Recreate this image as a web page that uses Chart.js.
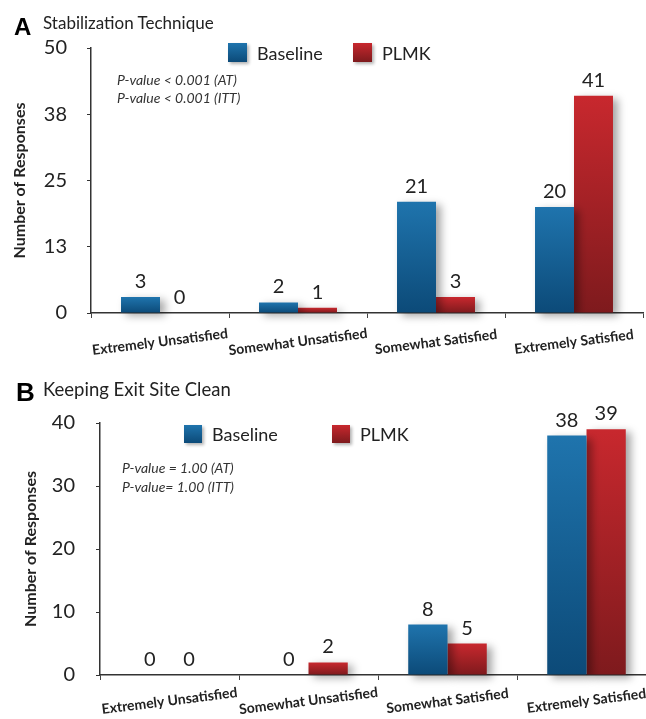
<!DOCTYPE html>
<html>
<head>
<meta charset="utf-8">
<script src="https://cdn.jsdelivr.net/npm/chart.js@4/dist/chart.umd.min.js"></script>
<style>
  html, body { margin: 0; padding: 0; width: 646px; height: 719px; overflow: hidden; background: #fff; }
  body { position: relative; font-family: Lato, sans-serif; color: #222; }
  canvas { position: absolute; left: 0; }
  #chartA { top: 0; }
  #chartB { top: 360px; }
  .letter { position: absolute; font-family: "Liberation Sans", Arial, sans-serif; font-weight: bold; color: #000; line-height: 1; }
  .title { position: absolute; line-height: 1; color: #222; }
  .pval { position: absolute; font-style: italic; font-size: 14px; color: #333; }
  .key { position: absolute; width: 19px; height: 19px; box-shadow: 2px 2px 3px rgba(0,0,0,0.3); }
  .key.blue { background: linear-gradient(#1f74ad, #0c4a78); }
  .key.red { background: linear-gradient(#c8282e, #7e1a1d); }
  .keytext { position: absolute; font-size: 18px; line-height: 20px; color: #222; }
</style>
</head>
<body>
<canvas id="chartA" width="646" height="360"></canvas>
<canvas id="chartB" width="660" height="359"></canvas>

<div class="letter" style="left:14px; top:15px; font-size:24px;">A</div>
<div class="title" style="left:43px; top:14px; font-size:17px;">Stabilization Technique</div>
<div class="key blue" style="left:228px; top:43px;"></div>
<div class="keytext" style="left:257px; top:43px;">Baseline</div>
<div class="key red" style="left:353px; top:43px;"></div>
<div class="keytext" style="left:382px; top:43px;">PLMK</div>
<div class="pval" style="left:117px; top:71px; line-height:18px;">P-value &lt; 0.001 (AT)<br>P-value &lt; 0.001 (ITT)</div>

<div class="letter" style="left:16px; top:379px; font-size:26px;">B</div>
<div class="title" style="left:43px; top:380px; font-size:18.5px;">Keeping Exit Site Clean</div>
<div class="key blue" style="left:184px; top:425px; width:18px; height:18px;"></div>
<div class="keytext" style="left:212px; top:424px;">Baseline</div>
<div class="key red" style="left:332px; top:425px; width:18px; height:18px;"></div>
<div class="keytext" style="left:360px; top:424px;">PLMK</div>
<div class="pval" style="left:122px; top:458px; line-height:19px;">P-value = 1.00 (AT)<br>P-value= 1.00 (ITT)</div>

<script>
// categories shared by both panels
const categories = ['Extremely Unsatisfied', 'Somewhat Unsatisfied', 'Somewhat Satisfied', 'Extremely Satisfied'];

// Panel A - Stabilization Technique
const baselineA = [3, 2, 21, 20];
const plmkA = [0, 1, 3, 41];
const yTicksA = [0, 12.5, 25, 37.5, 50];
const yTickLabelsA = ['0', '13', '25', '38', '50'];

// Panel B - Keeping Exit Site Clean
const baselineB = [0, 0, 8, 38];
const plmkB = [0, 2, 5, 39];
const yTicksB = [0, 10, 20, 30, 40];
const yTickLabelsB = ['0', '10', '20', '30', '40'];

const BLUE = ['#1f74ad', '#0c4a78'];
const RED = ['#c8282e', '#7e1a1d'];

function barGradient(colors) {
    return (c) => {
        const chart = c.chart;
        if (!chart.chartArea || c.raw === undefined) return colors[0];
        const y = chart.scales.y;
        const top = y.getPixelForValue(c.raw);
        const bottom = y.getPixelForValue(0);
        if (bottom - top < 1) return colors[0];
        const g = chart.ctx.createLinearGradient(0, top, 0, bottom);
        g.addColorStop(0, colors[0]);
        g.addColorStop(1, colors[1]);
        return g;
    };
}

// bar shadows, value labels and slanted category labels
const decorPlugin = {
    id: 'decor',
    beforeDatasetsDraw(chart) {
        const ctx = chart.ctx;
        ctx.save();
        ctx.shadowColor = 'rgba(0,0,0,0.35)';
        ctx.shadowBlur = 8;
        ctx.shadowOffsetX = 5;
        ctx.shadowOffsetY = 3;
    },
    afterDatasetsDraw(chart, args, opts) {
        const ctx = chart.ctx;
        ctx.restore();
        ctx.save();
        ctx.fillStyle = '#222';
        ctx.font = '20px Lato';
        ctx.textAlign = 'center';
        ctx.textBaseline = 'alphabetic';
        chart.data.datasets.forEach((ds, d) => {
            const meta = chart.getDatasetMeta(d);
            meta.data.forEach((el, i) => {
                ctx.fillText(String(ds.data[i]), el.x, el.y - 9);
            });
        });
        // category labels
        const xs = chart.scales.x;
        ctx.font = 'bold 14px Lato';
        ctx.textBaseline = 'middle';
        chart.data.labels.forEach((lab, i) => {
            const x = xs.getPixelForValue(i);
            ctx.save();
            ctx.translate(x, xs.top + opts.labelGap);
            ctx.rotate(-7.2 * Math.PI / 180);
            ctx.fillText(lab, 0, 0);
            ctx.restore();
        });
        ctx.restore();
    }
};

function makeChart(id, baseline, plmk, ticks, tickLabels, cfg) {
    return new Chart(document.getElementById(id), {
        type: 'bar',
        data: {
            labels: categories,
            datasets: [
                { label: 'Baseline', data: baseline, backgroundColor: barGradient(BLUE), clip: false },
                { label: 'PLMK', data: plmk, backgroundColor: barGradient(RED), clip: false }
            ]
        },
        options: {
            responsive: false,
            animation: false,
            devicePixelRatio: 1,
            categoryPercentage: 0.565,
            barPercentage: 1.0,
            layout: { padding: { left: 0, right: cfg.padRight, top: cfg.padTop, bottom: 0 } },
            plugins: {
                legend: { display: false },
                tooltip: { enabled: false },
                decor: { labelGap: cfg.labelGap }
            },
            scales: {
                x: {
                    grid: { drawOnChartArea: false, drawTicks: true, tickLength: 5, color: '#444', offset: true },
                    border: { color: '#333', width: 1.5 },
                    ticks: { display: false },
                    afterFit: (s) => { s.height = cfg.xHeight; }
                },
                y: {
                    min: ticks[0],
                    max: ticks[ticks.length - 1],
                    afterBuildTicks: (s) => { s.ticks = ticks.map(v => ({ value: v })); },
                    grid: { drawOnChartArea: false, drawTicks: true, tickLength: 4, color: '#333' },
                    border: { color: '#333', width: 1.5 },
                    ticks: {
                        padding: cfg.tickPad,
                        color: '#222',
                        font: { family: 'Lato', size: 20 },
                        callback: (v, i) => tickLabels[i]
                    },
                    title: {
                        display: true,
                        text: 'Number of Responses',
                        color: '#222',
                        font: { family: 'Lato', size: 16, weight: 'bold' },
                        padding: { top: cfg.titlePad, bottom: 0 }
                    },
                    afterFit: (s) => { s.width = cfg.yWidth; }
                }
            }
        },
        plugins: [decorPlugin]
    });
}

makeChart('chartA', baselineA, plmkA, yTicksA, yTickLabelsA,
    { padRight: 3, padTop: 48, xHeight: 47, yWidth: 91, tickPad: 20, titlePad: 10, labelGap: 29 });
makeChart('chartB', baselineB, plmkB, yTicksB, yTickLabelsB,
    { padRight: 4, padTop: 63, xHeight: 44, yWidth: 100, tickPad: 21, titlePad: 21, labelGap: 26 });
</script>
</body>
</html>
